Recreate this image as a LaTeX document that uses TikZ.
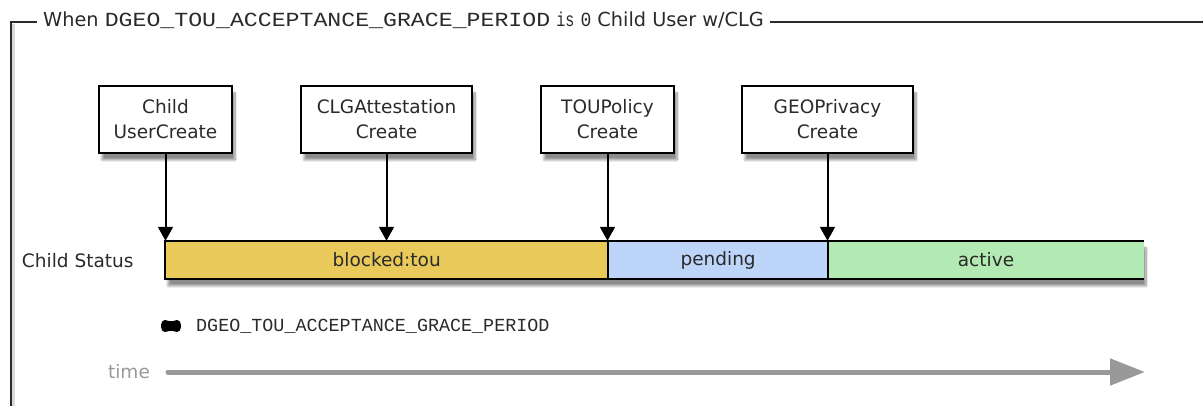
\documentclass[tikz,border=0pt]{standalone}
\usepackage{fontspec}
\setmainfont{DejaVu Sans}
\newfontfamily\codefont{Liberation Mono}
\usetikzlibrary{arrows.meta,shadows.blur}

\definecolor{ink}{HTML}{2A2A2A}
\definecolor{blockedfill}{HTML}{E9C95A}
\definecolor{pendingfill}{HTML}{BDD5F9}
\definecolor{activefill}{HTML}{B3E9B2}
\definecolor{timegray}{HTML}{999999}

\newcommand{\widecode}[2]{\scalebox{#2}[1]{\codefont\fontsize{20}{24}\selectfont #1}}

\begin{document}
\begin{tikzpicture}[x=1pt,y=1pt,
  lbl/.style={font=\fontsize{18.5}{25}\selectfont, text=ink},
  eventbox/.style={lbl, draw=black, line width=2pt, fill=white,
    minimum height=67pt, align=center, inner sep=0pt,
    blur shadow={shadow xshift=3pt, shadow yshift=-7pt, shadow blur steps=10, shadow opacity=45}},
  seg/.style={lbl, minimum height=38pt, inner sep=0pt, anchor=west},
  evarrow/.style={-{Triangle[length=14pt,width=15pt]}, line width=2pt, draw=black},
  barline/.style={line width=2pt, draw=black},
  framestyle/.style={line width=2pt, draw=ink}
]
\useasboundingbox (0,0) rectangle (1203,405);

% frame with title
\node[anchor=west, inner xsep=6pt, inner ysep=2pt, text=ink, font=\fontsize{19.3}{22}\selectfont] (title) at (37,385)
  {When \widecode{DGEO\_TOU\_ACCEPTANCE\_GRACE\_PERIOD}{1.16} \widecode{is}{0.75} \widecode{0}{0.9} Child User w/CLG};
\coordinate (corner) at (11,383);
\coordinate (frameleftend) at (11,-5);
\coordinate (framerightend) at (1210,383);
\draw[line width=3pt, black!15] ([xshift=2pt,yshift=-2pt]corner) -- ([xshift=2pt]frameleftend);
\draw[framestyle] (corner -| title.west) -- (corner) -- (frameleftend);
\draw[framestyle] (corner -| title.east) -- (framerightend);

% event boxes
\node[eventbox, minimum width=133pt] (ucreate) at (165.5,285.5) {Child\\UserCreate};
\node[eventbox, minimum width=171pt] (clg) at (386.5,285.5) {CLGAttestation\\Create};
\node[eventbox, minimum width=133pt] (tou) at (607.5,285.5) {TOUPolicy\\Create};
\node[eventbox, minimum width=171pt] (geo) at (827.5,285.5) {GEOPrivacy\\Create};

% status bar
\path[fill=white, blur shadow={shadow xshift=3pt, shadow yshift=-7pt, shadow blur steps=10, shadow opacity=45}]
  (165,126) rectangle (1143,164);
\node[seg, fill=blockedfill, minimum width=443pt] (blocked) at (165,145) {blocked:tou};
\node[seg, fill=pendingfill, minimum width=219pt] (pending) at (blocked.east) {pending};
\node[seg, fill=activefill, minimum width=316pt] (active) at (pending.east) {active};
\draw[barline] (active.north east) -- (blocked.north west) -- (blocked.south west) -- (active.south east);
\draw[barline] (blocked.north east) -- (blocked.south east);
\draw[barline] (pending.north east) -- (pending.south east);

\node[lbl, anchor=east] (status) at (137,144) {Child Status};

% event arrows
\draw[evarrow] (ucreate.south) -- (ucreate.south |- blocked.north);
\draw[evarrow] (clg.south) -- (clg.south |- blocked.north);
\draw[evarrow] (tou.south) -- (tou.south |- blocked.north);
\draw[evarrow] (geo.south) -- (geo.south |- pending.north);

% grace period legend marker: a notched black tab
\coordinate (blob) at (171,79);
\fill[black, rounded corners=2pt]
  ([xshift=-8pt,yshift=-6.5pt]blob) -- ([yshift=-4.5pt]blob) -- ([xshift=8pt,yshift=-6.5pt]blob)
  -- ([xshift=10.5pt]blob) -- ([xshift=8pt,yshift=6.5pt]blob) -- ([yshift=4.5pt]blob)
  -- ([xshift=-8pt,yshift=6.5pt]blob) -- ([xshift=-10.5pt]blob) -- cycle;
\node[anchor=west, inner sep=0pt, text=ink, font=\codefont\fontsize{18.4}{20}\selectfont] (grace) at (196,79)
  {DGEO\_TOU\_ACCEPTANCE\_GRACE\_PERIOD};

% time axis
\node[lbl, text=timegray] (timelbl) at (129,33) {time};
\coordinate (timeend) at (1145,33);
\draw[timegray, line width=5pt, line cap=round, -{Triangle[length=35pt,width=26pt]}]
  (168,33) -- (timeend);
\end{tikzpicture}
\end{document}
